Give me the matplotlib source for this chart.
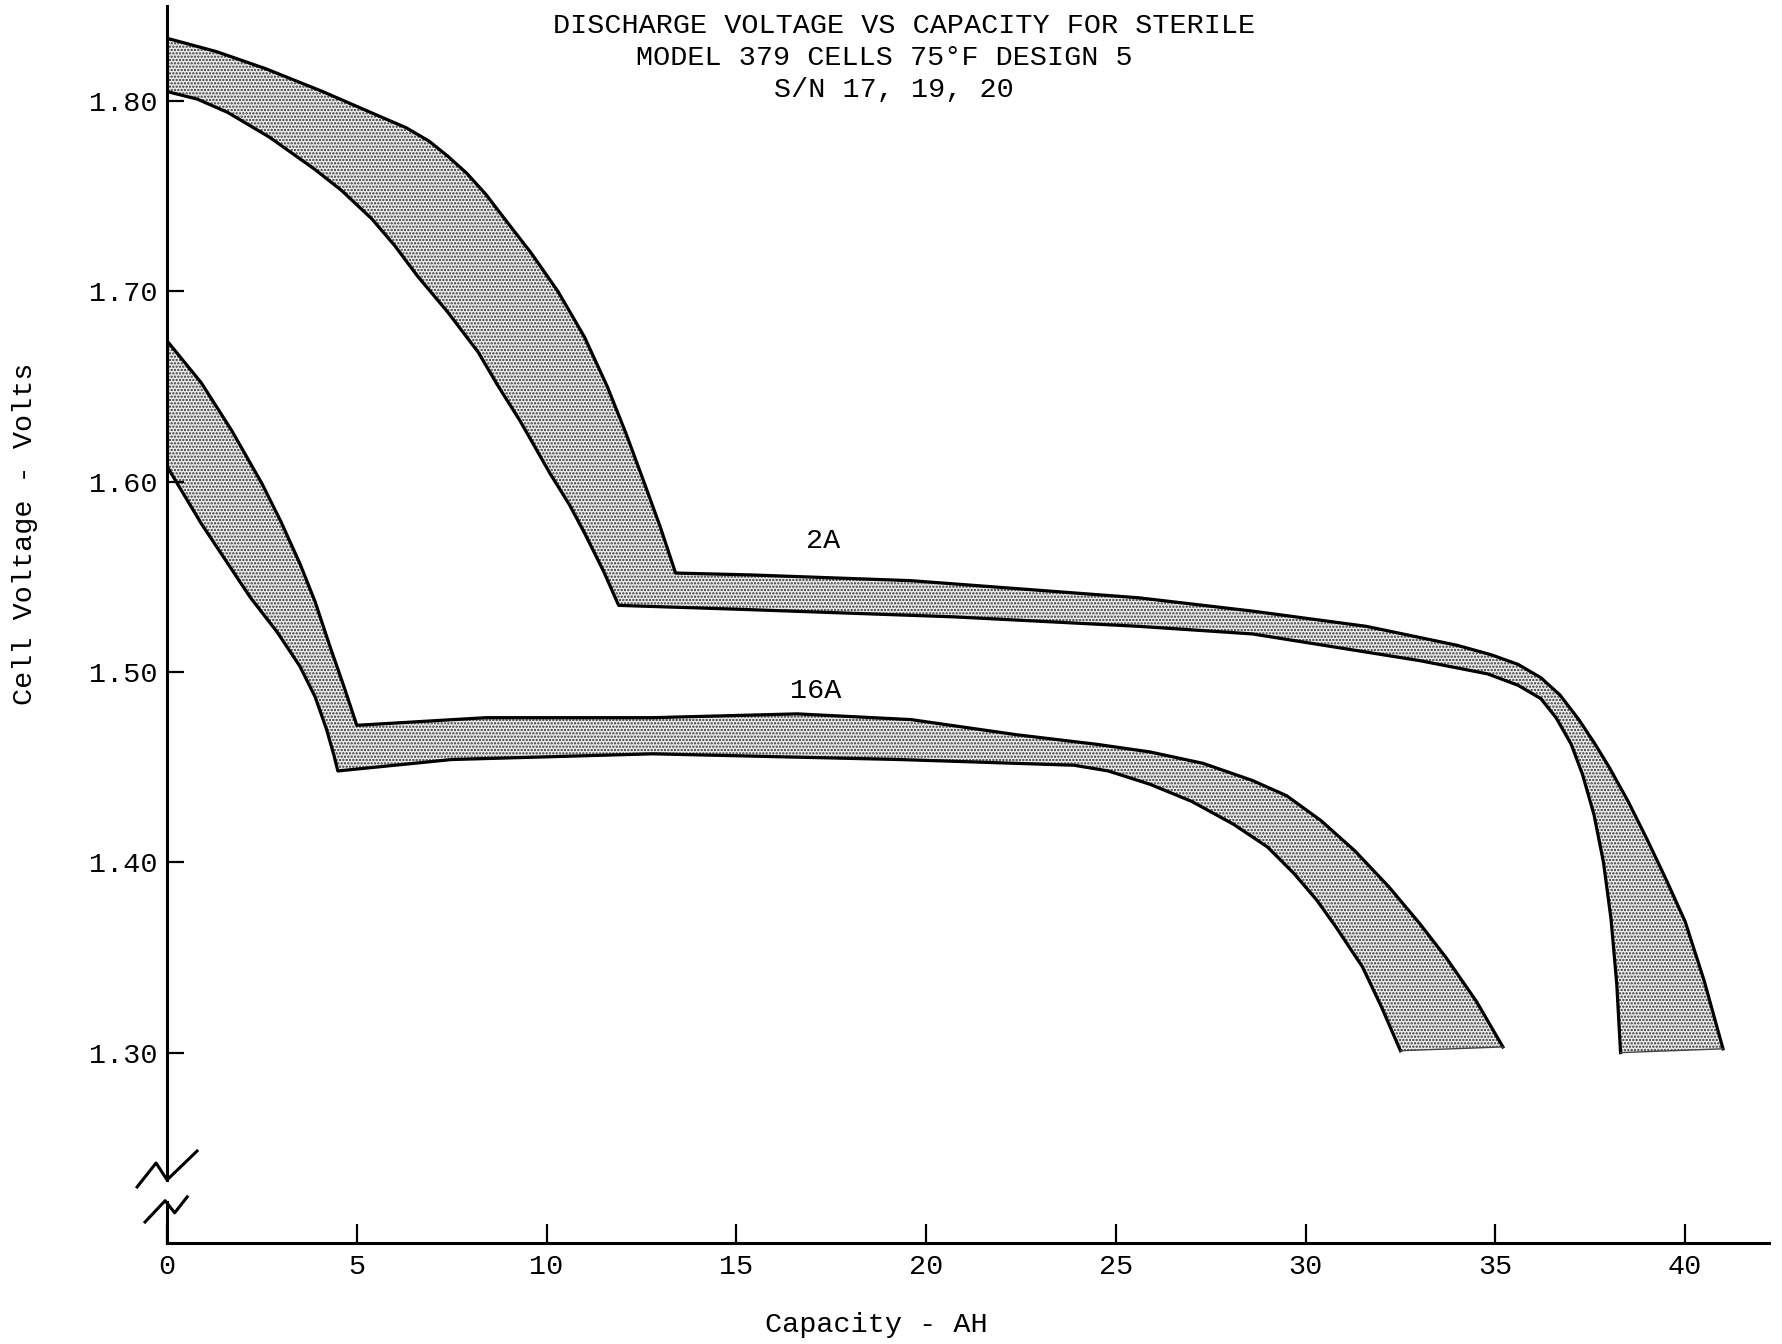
import matplotlib
matplotlib.use("Agg")
import matplotlib.pyplot as plt

# values (capacity AH, cell volts)
cap_2a_hi = [0, 1.3, 2.6, 4.1, 5.6, 6.3, 6.9, 7.4, 7.9, 8.4, 8.9, 9.6, 10.3, 11.0, 11.6, 12.1,
             12.6, 13.0, 13.4, 15.4, 19.6, 25.6, 28.6, 31.6, 34.0, 34.9, 35.6, 36.2,
             36.7, 37.2, 37.6, 38.0, 38.5, 39.0, 39.5, 40.0, 40.5, 41.0]
volt_2a_hi = [1.833, 1.826, 1.817, 1.805, 1.792, 1.786, 1.779, 1.771, 1.762, 1.751, 1.738,
              1.720, 1.700, 1.676, 1.650, 1.625, 1.598, 1.576, 1.552, 1.551, 1.548, 1.539,
              1.532, 1.524, 1.514, 1.509, 1.504, 1.497, 1.488, 1.475, 1.463, 1.450, 1.432,
              1.412, 1.391, 1.369, 1.338, 1.302]

cap_2a_lo = [0, 0.8, 1.6, 2.7, 3.9, 4.6, 5.4, 6.0, 6.6, 7.4, 8.2, 8.7, 9.3, 10.1, 10.6,
             11.0, 11.5, 11.9, 15.0, 20.7, 25.6, 28.6, 33.0, 34.8, 35.6, 36.2, 36.6,
             37.0, 37.3, 37.6, 37.85, 38.05, 38.2, 38.3]
volt_2a_lo = [1.805, 1.801, 1.794, 1.781, 1.764, 1.753, 1.738, 1.724, 1.708, 1.689, 1.668,
              1.651, 1.632, 1.604, 1.588, 1.573, 1.553, 1.535, 1.533, 1.529, 1.524, 1.520,
              1.506, 1.499, 1.493, 1.486, 1.476, 1.462, 1.446, 1.425, 1.400, 1.370,
              1.336, 1.300]

cap_16a_hi = [0, 0.9, 1.7, 2.5, 3.0, 3.5, 3.9, 4.3, 4.65, 5.0, 8.4, 12.8, 16.6, 19.6,
              22.4, 24.5, 25.9, 27.3, 28.6, 29.5, 30.4, 31.3, 32.2, 33.0, 33.7, 34.5, 35.2]
volt_16a_hi = [1.674, 1.652, 1.627, 1.599, 1.579, 1.557, 1.537, 1.513, 1.493, 1.472, 1.476,
               1.476, 1.478, 1.475, 1.467, 1.462, 1.458, 1.452, 1.443, 1.435, 1.422, 1.406,
               1.387, 1.368, 1.350, 1.327, 1.303]

cap_16a_lo = [0, 0.9, 2.2, 2.9, 3.5, 3.9, 4.2, 4.4, 4.5, 7.5, 12.8, 19.3, 23.9, 24.8, 25.9,
              27.0, 28.1, 29.0, 29.7, 30.3, 30.8, 31.5, 32.0, 32.5]
volt_16a_lo = [1.608, 1.578, 1.539, 1.521, 1.503, 1.487, 1.470, 1.456, 1.448, 1.454, 1.457,
               1.454, 1.451, 1.448, 1.441, 1.432, 1.420, 1.408, 1.394, 1.380, 1.366, 1.345,
               1.324, 1.301]

band_labels = ["2A", "16A"]
label_pos = [(17.3, 1.569), (17.1, 1.490)]

x_ticks = [0, 5, 10, 15, 20, 25, 30, 35, 40]
y_ticks = [1.30, 1.40, 1.50, 1.60, 1.70, 1.80]

title_lines = ["DISCHARGE VOLTAGE VS CAPACITY FOR STERILE",
               "MODEL 379 CELLS 75\u00b0F DESIGN 5",
               "S/N 17, 19, 20"]

plt.rcParams['font.family'] = ['Liberation Mono', 'DejaVu Sans Mono']
plt.rcParams['hatch.linewidth'] = 1.1
fs = 20.5

fig = plt.figure(figsize=(17.83, 13.44), dpi=100)
ax = fig.add_axes([0.0937, 0.0752, 0.8982, 0.9204])
ax.set_xlim(0, 42.2)
ax.set_ylim(1.20, 1.85)

# shaded bands
for xs_hi, ys_hi, xs_lo, ys_lo in [(cap_2a_hi, volt_2a_hi, cap_2a_lo, volt_2a_lo),
                                   (cap_16a_hi, volt_16a_hi, cap_16a_lo, volt_16a_lo)]:
    px = list(xs_hi) + list(xs_lo[::-1])
    py = list(ys_hi) + list(ys_lo[::-1])
    ax.fill(px, py, facecolor='#ebebeb', edgecolor='#333333', linewidth=0, hatch='.....')
    ax.plot(xs_hi, ys_hi, color='black', lw=2.3, solid_joinstyle='round')
    ax.plot(xs_lo, ys_lo, color='black', lw=2.3, solid_joinstyle='round')
    ax.plot([xs_lo[-1], xs_hi[-1]], [ys_lo[-1], ys_hi[-1]], color='#444444', lw=1)

for lab, (lx, ly) in zip(band_labels, label_pos):
    ax.text(lx, ly, lab, fontsize=fs, ha='center', va='center')

# axes styling
for s in ['top', 'right', 'left']:
    ax.spines[s].set_visible(False)
ax.spines['bottom'].set_linewidth(2.2)

# left axis with break symbol
ax.plot([0, 0], [1.2331, 1.85], color='black', lw=2.2, clip_on=False)
ax.plot([0, 0], [1.20, 1.2215], color='black', lw=2.2, clip_on=False)
ax.plot([-0.79, -0.29, 0.0, 0.79], [1.2294, 1.2420, 1.2331, 1.2483],
        color='black', lw=2.2, clip_on=False)
ax.plot([-0.58, -0.05, 0.2, 0.53], [1.2110, 1.2222, 1.2158, 1.2242],
        color='black', lw=2.2, clip_on=False)

ax.set_xticks(x_ticks)
ax.set_xticklabels([str(t) for t in x_ticks])
ax.set_yticks(y_ticks)
ax.set_yticklabels(["%.2f" % t for t in y_ticks])
ax.tick_params(axis='both', direction='in', labelsize=fs, width=1.6)
ax.tick_params(axis='x', length=14, pad=8)
ax.tick_params(axis='y', length=12, pad=7)

ax.set_xlabel('Capacity - AH', fontsize=fs, va='center')
ax.xaxis.set_label_coords(0.443, -0.0663)
ax.set_ylabel('Cell Voltage - Volts', fontsize=fs, va='center')
ax.yaxis.set_label_coords(-0.0887, 0.573)

title_x = [904, 884, 894]
title_y = [26, 58, 90]
for t, tx, ty in zip(title_lines, title_x, title_y):
    fig.text(tx / 1783, 1 - ty / 1344, t, fontsize=fs, ha='center', va='center')

fig.savefig('out.png', dpi=100)
